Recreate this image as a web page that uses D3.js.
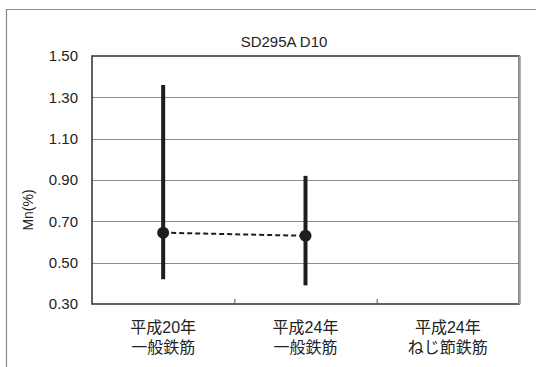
<!DOCTYPE html>
<html>
<head>
<meta charset="utf-8">
<script src="https://cdn.jsdelivr.net/npm/d3@7"></script>
<style>
  html, body { margin: 0; padding: 0; background: #fff; }
  svg { display: block; }
  text { font-family: "Liberation Sans", Arial, "Noto Sans CJK JP", sans-serif; fill: #222; }
</style>
</head>
<body>
<svg id="chart" width="536" height="367"></svg>
<script>
// Mn content (%) per product group: range (min–max) and mean
const categories = [["平成20年", "一般鉄筋"], ["平成24年", "一般鉄筋"], ["平成24年", "ねじ節鉄筋"]];
const categoryKeys = ["h20-general", "h24-general", "h24-screw"];
const maxValues = [1.36, 0.92, null];
const minValues = [0.42, 0.39, null];
const meanValues = [0.645, 0.63, null];
const yTicks = [0.30, 0.50, 0.70, 0.90, 1.10, 1.30, 1.50];
const titleText = "SD295A D10";
const yLabel = "Mn(%)";

const svg = d3.select("#chart");
const W = 536, H = 367;
const plot = { left: 92, right: 519, top: 56, bottom: 304 };

// outer chart frame (only top and left edges fall inside the view)
svg.append("path")
  .attr("d", `M6.5,${H} V9.5 H${W}`)
  .attr("fill", "none").attr("stroke", "#8a8a8a").attr("stroke-width", 1.2);

const x = d3.scaleBand().domain(categoryKeys).range([plot.left, plot.right]);
const y = d3.scaleLinear().domain([0.30, 1.50]).range([plot.bottom, plot.top]);

// horizontal gridlines
svg.append("g").selectAll("line").data(yTicks.slice(1, -1)).join("line")
  .attr("x1", plot.left).attr("x2", plot.right)
  .attr("y1", d => Math.round(y(d)) + 0.5).attr("y2", d => Math.round(y(d)) + 0.5)
  .attr("stroke", "#8c8c8c").attr("stroke-width", 1);

// plot-area border
svg.append("rect")
  .attr("x", plot.left).attr("y", plot.top)
  .attr("width", plot.right - plot.left).attr("height", plot.bottom - plot.top)
  .attr("fill", "none").attr("stroke", "#3a3a3a").attr("stroke-width", 1.6);
svg.append("line")
  .attr("x1", plot.right + 0.5).attr("x2", plot.right + 0.5)
  .attr("y1", plot.top).attr("y2", plot.bottom)
  .attr("stroke", "#9a9a9a").attr("stroke-width", 2.5);

// y axis labels
const yAxis = d3.axisLeft(y).tickValues(yTicks).tickFormat(d3.format(".2f")).tickSize(0).tickPadding(14);
const yg = svg.append("g").attr("transform", `translate(${plot.left},0)`).call(yAxis);
yg.select(".domain").remove();
yg.selectAll("text").style("font-size", "15px").attr("fill", "#222")
  .style("font-family", "'Liberation Sans', Arial, sans-serif");

// x axis: tick marks between categories, two-line labels
const boundaries = categoryKeys.slice(1).map(k => x(k));
svg.append("g").selectAll("line").data(boundaries).join("line")
  .attr("x1", d => d + 0.5).attr("x2", d => d + 0.5)
  .attr("y1", plot.bottom - 5).attr("y2", plot.bottom)
  .attr("stroke", "#555").attr("stroke-width", 1);

const xl = svg.append("g").selectAll("text").data(categoryKeys).join("text")
  .attr("x", k => x(k) + x.bandwidth() / 2)
  .attr("y", 333)
  .attr("text-anchor", "middle")
  .style("font-size", "16px")
  .style("font-family", "'Liberation Sans', 'Noto Sans CJK JP', sans-serif");
xl.each(function(k, i) {
  const t = d3.select(this);
  categories[i].forEach((line, j) => {
    t.append("tspan").attr("x", x(k) + x.bandwidth() / 2).attr("dy", j === 0 ? 0 : 20).text(line);
  });
});

// range bars
const rows = categoryKeys.map((k, i) => ({ k, lo: minValues[i], hi: maxValues[i], mean: meanValues[i] }))
  .filter(d => d.mean != null);
const cx = d => x(d.k) + x.bandwidth() / 2;

svg.append("g").selectAll("line").data(rows).join("line")
  .attr("x1", cx).attr("x2", cx)
  .attr("y1", d => y(d.hi)).attr("y2", d => y(d.lo))
  .attr("stroke", "#1e1e1e").attr("stroke-width", 4);

// dashed line joining the means
svg.append("path")
  .datum(rows)
  .attr("d", d3.line().x(cx).y(d => y(d.mean)))
  .attr("fill", "none").attr("stroke", "#1e1e1e").attr("stroke-width", 2)
  .attr("stroke-dasharray", "5,3");

svg.append("g").selectAll("circle").data(rows).join("circle")
  .attr("cx", cx).attr("cy", d => y(d.mean)).attr("r", 6)
  .attr("fill", "#1e1e1e");

// title and y-axis title
svg.append("text").attr("x", 284).attr("y", 47).attr("text-anchor", "middle")
  .style("font-size", "15px").text(titleText);

svg.append("text")
  .attr("transform", "translate(33,210) rotate(-90)")
  .attr("text-anchor", "middle")
  .style("font-size", "14px").text(yLabel);
</script>
</body>
</html>
